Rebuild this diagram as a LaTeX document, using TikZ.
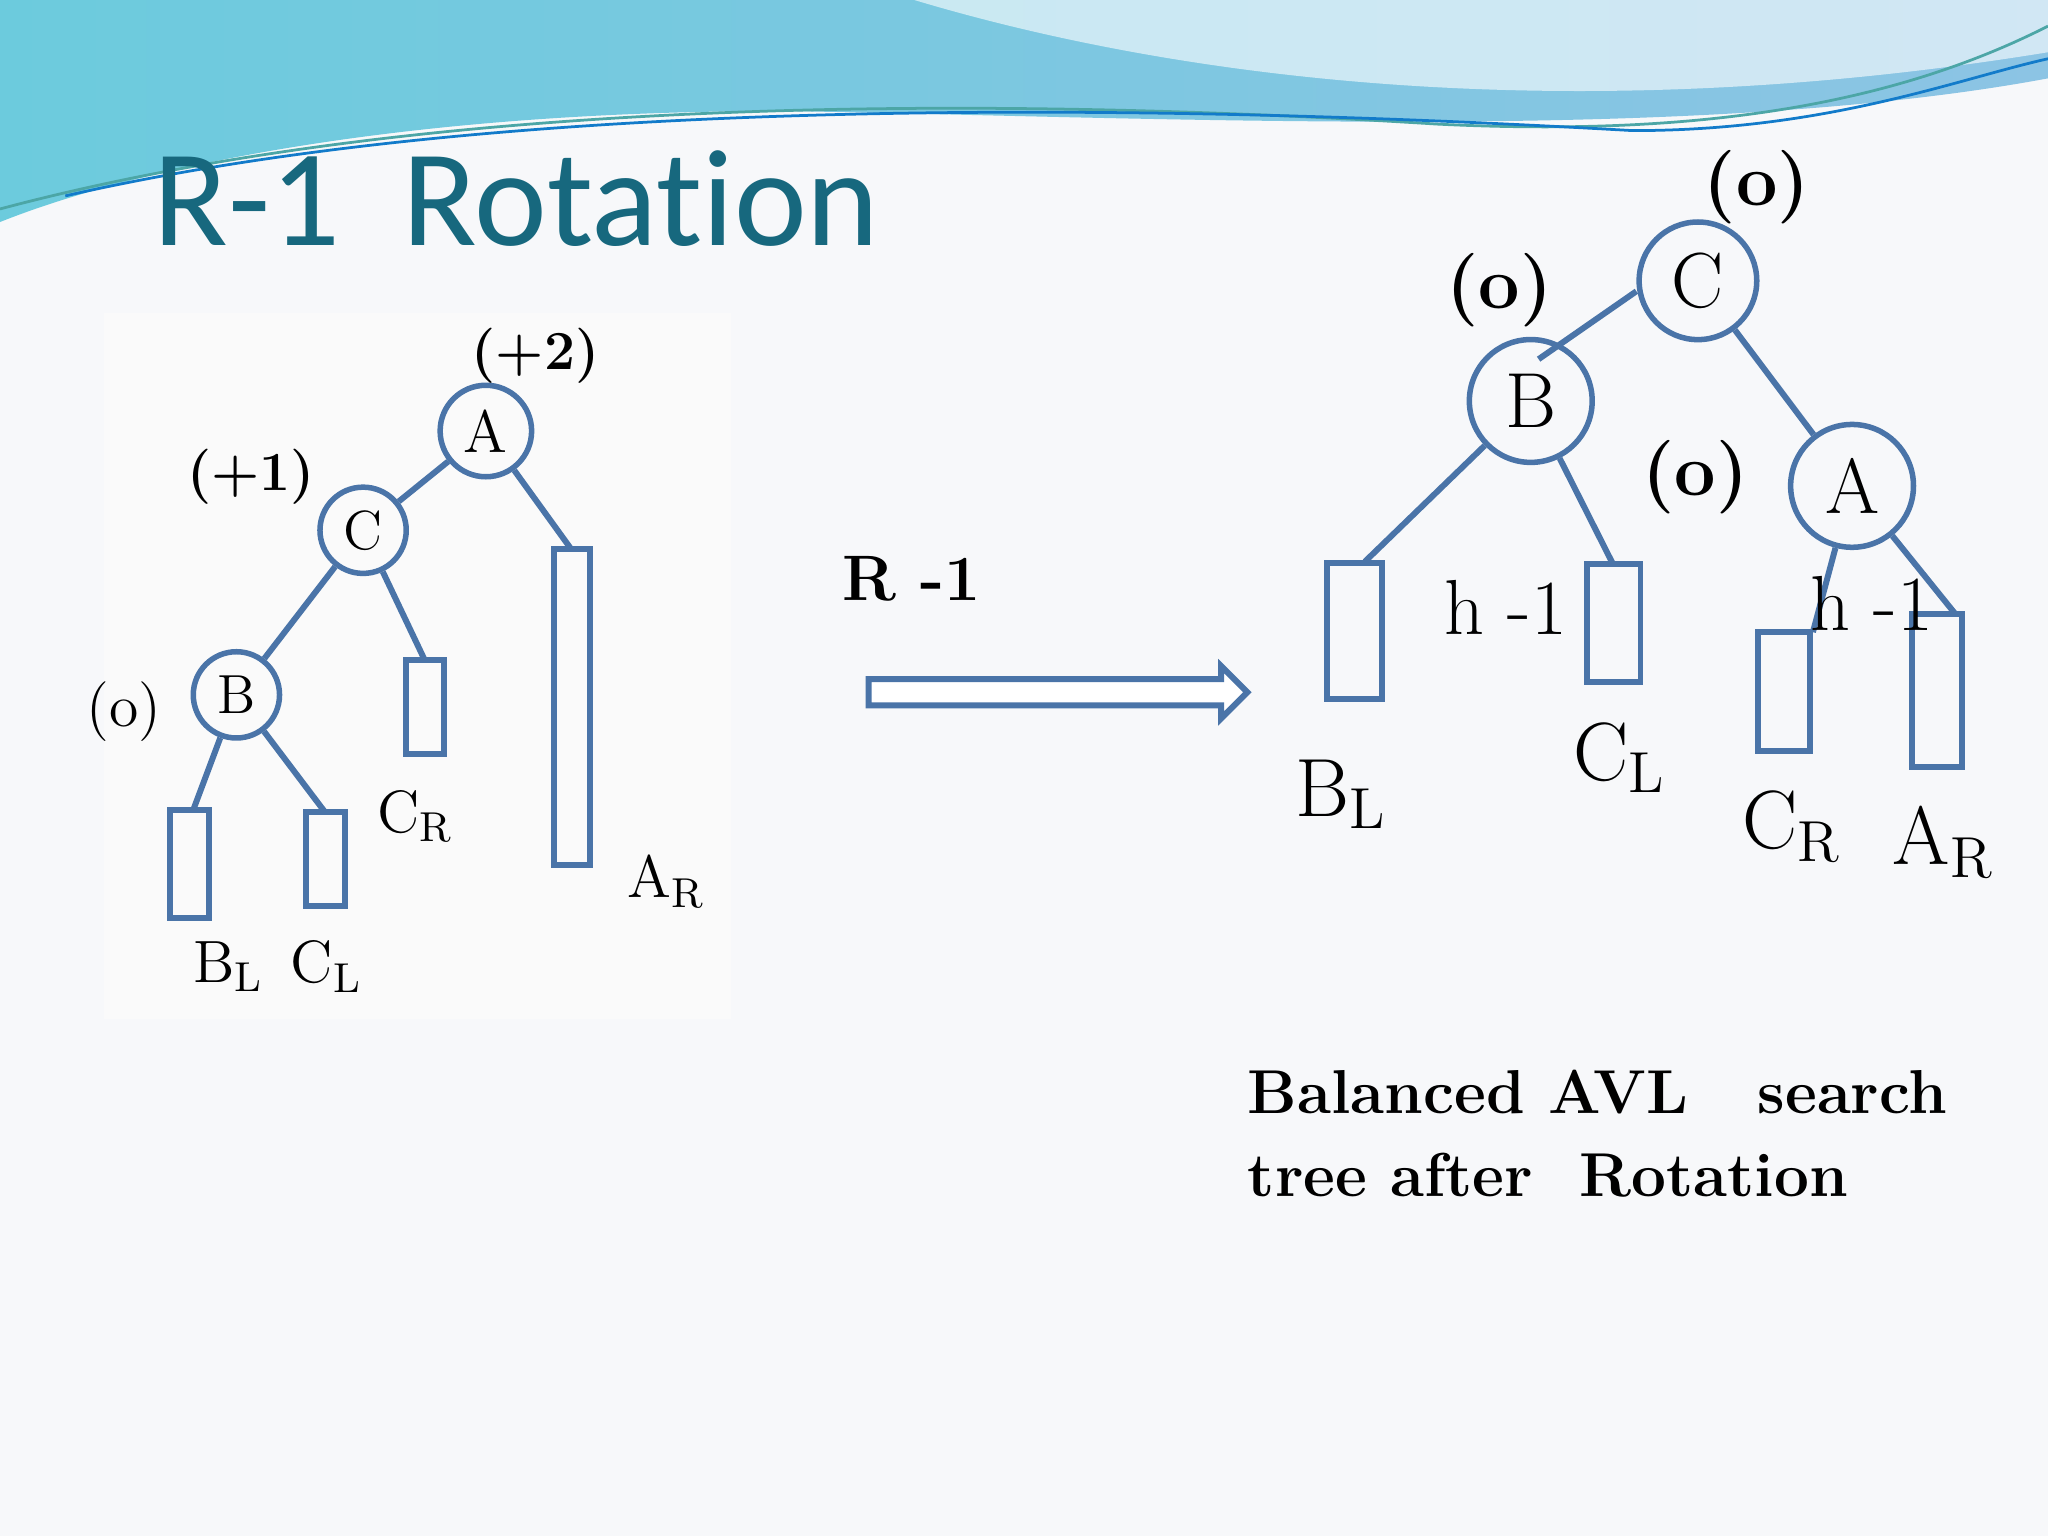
\documentclass[tikz,border=0pt]{standalone}
\usepackage{fontspec}
\newfontfamily\titlefont[Ligatures=NoCommon]{Carlito}
\definecolor{bg}{HTML}{F7F8FA}
\definecolor{ln}{HTML}{4A74A8}
\definecolor{ttl}{HTML}{17687E}
\definecolor{wa}{HTML}{6CCBDD}
\definecolor{wb}{HTML}{8CC4E4}
\begin{document}
\begin{tikzpicture}[x=0.01cm,y=-0.01cm,
  edge/.style={ln,line width=1.3pt},
  cnode/.style={circle,draw=ln,line width=1.2pt,inner sep=0pt},
  rbox/.style={draw=ln,line width=1.3pt}]
\useasboundingbox (0,0) rectangle (1568,1176);
\fill[bg] (0,0) rectangle (1568,1176);
% header wave
\shade[left color=wa,right color=wb] (0,0) -- (1568,0) -- (1568,60) .. controls (1300,110) and (900,90) .. (600,85) .. controls (300,85) and (100,130) .. (0,170) -- cycle;
\fill[white,opacity=0.6] (700,0) .. controls (900,60) and (1200,100) .. (1568,40) -- (1568,0) -- cycle;
\draw[teal!70,line width=0.6pt] (0,160) .. controls (300,80) and (700,70) .. (1100,95) .. controls (1300,105) and (1450,80) .. (1568,20);
\draw[cyan!60!blue,line width=0.6pt] (50,150) .. controls (400,70) and (900,80) .. (1250,100) .. controls (1400,100) and (1500,60) .. (1568,45);
\node[anchor=west,ttl,font=\titlefont\fontsize{30}{36}\selectfont] (title) at (105,152) {R-1\ \ Rotation};
% left tree image area
\fill[white!96!gray] (80,240) rectangle (560,780);
\node[cnode,minimum size=0.7cm] (A1) at (372,330) {\fontsize{13}{15}\selectfont A};
\node[cnode,minimum size=0.66cm] (C1) at (278,406) {\fontsize{12}{14}\selectfont C};
\node[cnode,minimum size=0.66cm] (B1) at (181,532) {\fontsize{12}{14}\selectfont B};
\draw[rbox] (130,620) rectangle (160,703);
\draw[rbox] (234,622) rectangle (264,694);
\draw[rbox] (311,505) rectangle (340,577);
\draw[rbox] (424,420) rectangle (452,662);
\coordinate (bl1t) at (148,620); \coordinate (cl1t) at (249,622);
\coordinate (cr1t) at (325,505); \coordinate (ar1t) at (437,420);
\draw[edge] (A1) -- (C1); \draw[edge] (A1) -- (ar1t);
\draw[edge] (C1) -- (B1); \draw[edge] (C1) -- (cr1t);
\draw[edge] (B1) -- (bl1t); \draw[edge] (B1) -- (cl1t);
\node[font=\fontsize{12}{14}\selectfont\bfseries] (p2) at (410,272) {(+2)};
\node[font=\fontsize{12}{14}\selectfont\bfseries] (p1) at (192,365) {(+1)};
\node[font=\fontsize{13}{15}\selectfont] (z1) at (95,545) {(o)};
\node[font=\fontsize{13}{15}\selectfont] (lcr) at (318,625) {C\textsubscript{R}};
\node[font=\fontsize{13}{15}\selectfont] (lar) at (510,675) {A\textsubscript{R}};
\node[font=\fontsize{13}{15}\selectfont] (lbl) at (175,740) {B\textsubscript{L}};
\node[font=\fontsize{13}{15}\selectfont] (lcl) at (250,740) {C\textsubscript{L}};
% arrow
\draw[ln,line width=1.3pt,fill=white] (665,520) -- (935,520) -- (935,510) -- (955,530) -- (935,550) -- (935,540) -- (665,540) -- cycle;
\node[font=\fontsize{14}{16}\selectfont\bfseries] (r1) at (698,443) {R -1};
% right tree
\node[cnode,minimum size=0.9cm] (C2) at (1300,215) {\fontsize{17}{19}\selectfont C};
\node[cnode,minimum size=0.94cm] (B2) at (1172,307) {\fontsize{17}{19}\selectfont B};
\node[cnode,minimum size=0.94cm] (A2) at (1418,372) {\fontsize{17}{19}\selectfont A};
\draw[rbox] (1016,431) rectangle (1058,535);
\draw[rbox] (1215,432) rectangle (1256,522);
\draw[rbox] (1346,484) rectangle (1386,575);
\draw[rbox] (1464,470) rectangle (1502,587);
\coordinate (bl2t) at (1045,430); \coordinate (cl2t) at (1235,432);
\coordinate (cr2t) at (1388,484); \coordinate (ar2t) at (1497,470);
\coordinate (bend) at (1178,275);
\draw[edge] (C2.west) ++(0,8) -- (bend);
\draw[edge] (C2) -- (A2);
\draw[edge] (B2) -- (bl2t); \draw[edge] (B2) -- (cl2t);
\draw[edge] (A2) -- (cr2t); \draw[edge] (A2) -- (ar2t);
\node[font=\fontsize{16}{18}\selectfont\bfseries] (z2) at (1345,143) {(o)};
\node[font=\fontsize{16}{18}\selectfont\bfseries] (z3) at (1148,222) {(o)};
\node[font=\fontsize{16}{18}\selectfont\bfseries] (z4) at (1298,365) {(o)};
\node[font=\fontsize{17}{19}\selectfont] (h1) at (1153,465) {h -1};
\node[font=\fontsize{17}{19}\selectfont] (h2) at (1433,462) {h -1};
\node[font=\fontsize{18}{20}\selectfont] (rbl) at (1027,608) {B\textsubscript{L}};
\node[font=\fontsize{18}{20}\selectfont] (rcl) at (1240,580) {C\textsubscript{L}};
\node[font=\fontsize{18}{20}\selectfont] (rcr) at (1372,633) {C\textsubscript{R}};
\node[font=\fontsize{18}{20}\selectfont] (rar) at (1488,645) {A\textsubscript{R}};
\node[anchor=north west,align=left,font=\fontsize{13.5}{18}\selectfont\bfseries] (cap) at (943,807) {Balanced\ AVL\ \ \ search\\tree after\ \ Rotation};
\end{tikzpicture}
\end{document}
